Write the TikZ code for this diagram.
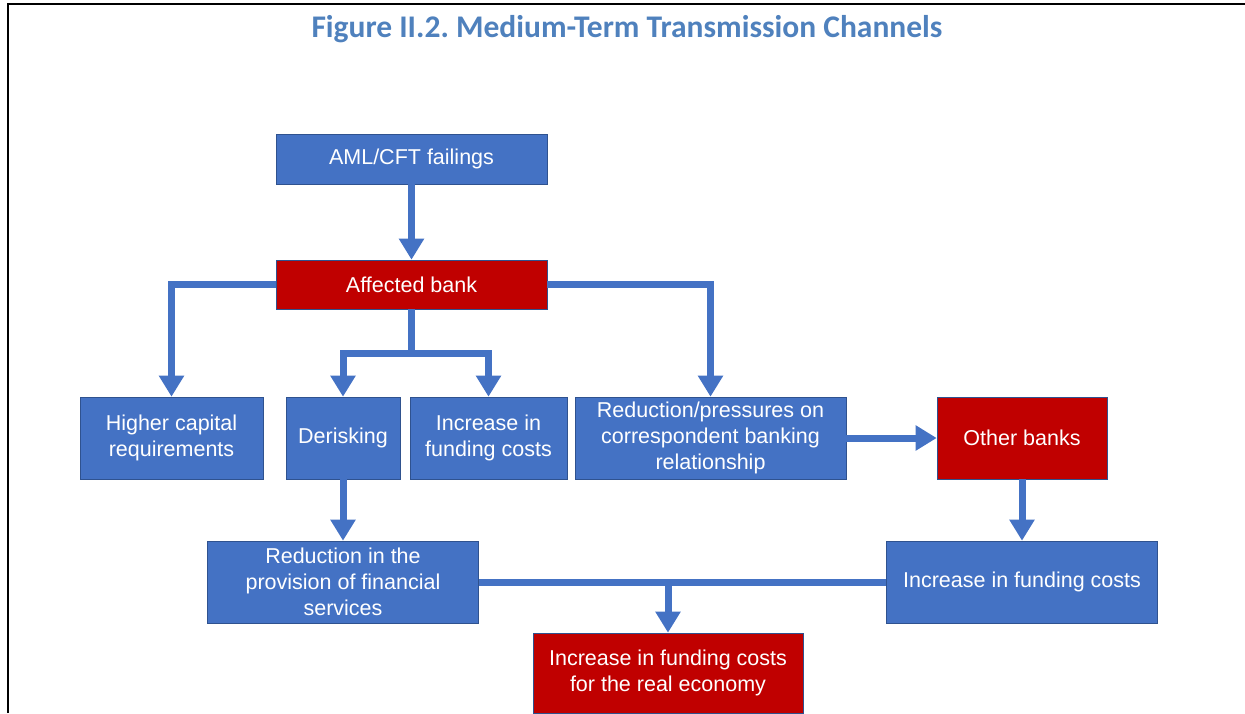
\documentclass[tikz,border=0pt]{standalone}
\usepackage{fontspec}
\setmainfont{Liberation Sans}
\newfontfamily\titlefont{Carlito}
\usetikzlibrary{arrows.meta}
\definecolor{boxblue}{RGB}{68,114,196}
\definecolor{boxred}{RGB}{192,0,0}
\definecolor{edgeblue}{RGB}{47,82,143}
\definecolor{titleblue}{RGB}{79,129,189}
\frenchspacing

\begin{document}
\begin{tikzpicture}[x=1pt, y=-1pt,
		box/.style={draw=edgeblue, line width=0.6pt, fill=boxblue, text=white, align=center, inner sep=0pt, font=\fontsize{21.5}{26}\selectfont},
		redbox/.style={box, fill=boxred},
		link/.style={draw=boxblue, line width=7pt},
		arr/.style={link, -{Triangle[width=24pt,length=21pt]}}]
		%%%%% START %%%%%
		
		\useasboundingbox (0, 0) rectangle (1245, 713);
		\draw[line width=2.5pt] (8, 713) -- (8, 4) -- (1245, 4);
		
		\node[anchor=base, text=titleblue, font=\titlefont\bfseries\fontsize{31.5}{36}\selectfont] (title) at (627, 37) {Figure II.2. Medium-Term Transmission Channels};
		
		\node[box, minimum width=271, minimum height=50] (aml) at (411.5, 159) {AML/CFT failings};
		\node[redbox, minimum width=271, minimum height=49] (affected) at (411.5, 284.5) {Affected bank};
		
		\node[box, minimum width=183, minimum height=82] (capital) at (171.5, 438) {Higher capital\\requirements};
		\node[box, minimum width=114, minimum height=82] (derisk) at (343, 438) {Derisking};
		\node[box, minimum width=157, minimum height=82] (fundmid) at (488.5, 438) {Increase in\\funding costs};
		\node[box, minimum width=271, minimum height=82] (corresp) at (710.5, 438) {Reduction/pressures on\\correspondent banking\\relationship};
		\node[redbox, minimum width=170, minimum height=82] (others) at (1022, 438) {Other banks};
		
		\node[box, minimum width=271, minimum height=82] (provision) at (343, 582) {Reduction in the\\provision of financial\\services};
		\node[box, minimum width=271, minimum height=82] (fundright) at (1022, 582) {Increase in funding costs};
		\node[redbox, minimum width=270, minimum height=80] (realeco) at (668, 673) {Increase in funding costs\\for the real economy};
		
		\draw[arr] (aml) -- (affected);
		\draw[arr] (affected.west) -| (capital.north);
		\draw[arr] (affected.east) -| (corresp.north);
		\coordinate (split) at ([yshift=-44pt]affected.south);
		\draw[arr] (affected.south) -- (split) -| (derisk.north);
		\draw[arr] (affected.south) -- (split) -| (fundmid.north);
		
		\draw[arr] (derisk) -- (provision);
		\draw[arr] (corresp) -- (others);
		\draw[arr] (others) -- (fundright);
		
		\draw[link] (provision.east) -- (fundright.west);
		\coordinate (merge) at (provision.east -| realeco.north);
		\draw[arr] (merge) -- (realeco.north);
		
		%%%%% END %%%%%
	\end{tikzpicture}
\end{document}
